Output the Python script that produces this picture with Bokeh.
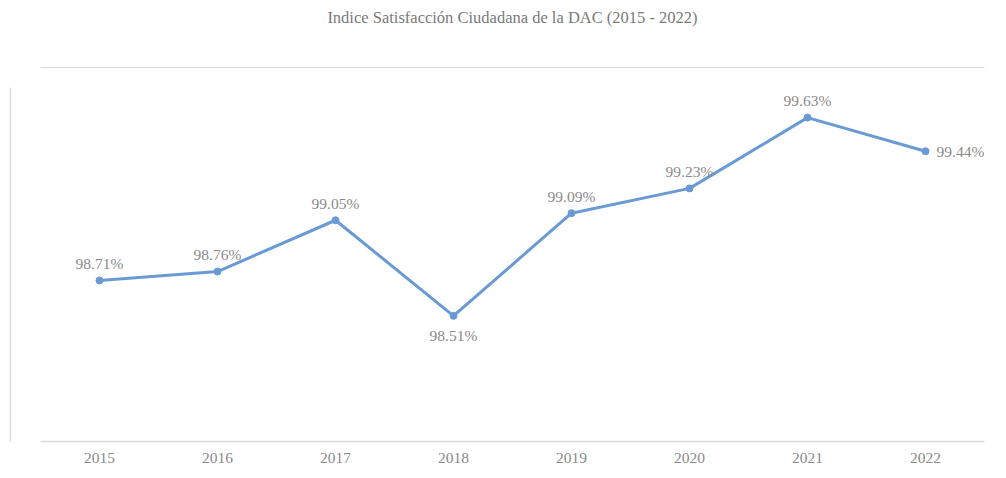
from bokeh.plotting import figure
from bokeh.models import (ColumnDataSource, LabelSet, Range1d, LinearAxis, FixedTicker)
from bokeh.embed import file_html
from bokeh.resources import INLINE

years = ["2015", "2016", "2017", "2018", "2019", "2020", "2021", "2022"]
values = [98.71, 98.76, 99.05, 98.51, 99.09, 99.23, 99.63, 99.44]
label_texts = ["98.71%", "98.76%", "99.05%", "98.51%", "99.09%", "99.23%", "99.63%", "99.44%"]
placement = ["above", "above", "above", "below", "above", "above", "above", "right"]
title_text = "Indice Satisfacción Ciudadana de la DAC (2015 - 2022)"

FONT = "Liberation Serif"
GREY = "#8a8a8a"
BLUE = "#6a9ad3"
BORDER = "#d9d9d9"

Y0, Y1 = 97.8, 99.8
N = len(years)
xs = [i + 0.5 for i in range(N)]  # category centres

xo = {"above": 0, "below": 0, "right": 11}
yo = {"above": 17, "below": -20, "right": 0}
al = {"above": "center", "below": "center", "right": "left"}
dx = [xo[k] for k in placement]
dy = [yo[k] for k in placement]
ta = [al[k] for k in placement]

src = ColumnDataSource(dict(x=xs, y=values, t=label_texts, dx=dx, dy=dy, ta=ta))

p = figure(width=998, height=470, x_range=Range1d(0, N), y_range=Range1d(Y0, Y1),
           y_axis_location=None,
           output_backend="svg", toolbar_location=None,
           min_border_left=40, min_border_right=14, min_border_top=87, min_border_bottom=29)
p.outline_line_color = None
p.background_fill_color = "white"
p.border_fill_color = "white"
p.xgrid.visible = False
p.ygrid.visible = False

ax = p.xaxis[0]
ax.ticker = FixedTicker(ticks=xs)
ax.major_label_overrides = {x: yr for x, yr in zip(xs, years)}
ax.axis_line_color = BORDER
ax.axis_line_width = 1.5
ax.major_tick_line_color = None
ax.minor_tick_line_color = None
ax.major_tick_out = 0
ax.major_tick_in = 0
ax.major_label_text_font = FONT
ax.major_label_text_font_size = "15.5px"
ax.major_label_text_color = GREY
ax.major_label_standoff = 11

px_per_x = 944 / N
px_per_y = 354 / (Y1 - Y0)


def bare_axis(**kw):
    base = dict(ticker=FixedTicker(ticks=[]), major_tick_line_color=None, minor_tick_line_color=None,
                major_tick_in=0, minor_tick_in=0, minor_tick_out=0, major_tick_out=0,
                major_label_standoff=0)
    base.update(kw)
    return LinearAxis(**base)


def spacer(gap):
    return bare_axis(axis_line_color=None, axis_label=" ", axis_label_standoff=gap,
                     axis_label_text_font_size="1px", axis_label_text_color=None)


# chart-area border: left and top edges, pushed out from the plot frame by spacer axes
p.add_layout(spacer(26), "left")
p.add_layout(bare_axis(axis_line_color=BORDER, axis_line_width=1.2,
                       bounds=(Y0 - 45 / px_per_y, Y1 + 20 / px_per_y)), "left")
p.add_layout(spacer(16), "above")
p.add_layout(bare_axis(axis_line_color=BORDER, axis_line_width=1.2,
                       bounds=(-30 / px_per_x, N + 0.5)), "above")

# chart title, centred over the page
cx = (497 - 40) / px_per_x
p.add_layout(bare_axis(axis_line_color=None, bounds=(cx - 1, cx + 1),
                       axis_label=title_text, axis_label_standoff=41,
                       axis_label_text_font=FONT, axis_label_text_font_size="16.5px",
                       axis_label_text_font_style="normal", axis_label_text_color="#7a7a7a"), "above")

p.line("x", "y", source=src, line_color=BLUE, line_width=3)
p.scatter("x", "y", source=src, size=7, fill_color=BLUE, line_color=BLUE)

labels = LabelSet(x="x", y="y", text="t", source=src, x_offset="dx", y_offset="dy",
                  text_align="ta", text_baseline="middle",
                  text_font=FONT, text_font_size="15.5px", text_color=GREY)
p.add_layout(labels)

open("out.html", "w").write(file_html(p, INLINE))
